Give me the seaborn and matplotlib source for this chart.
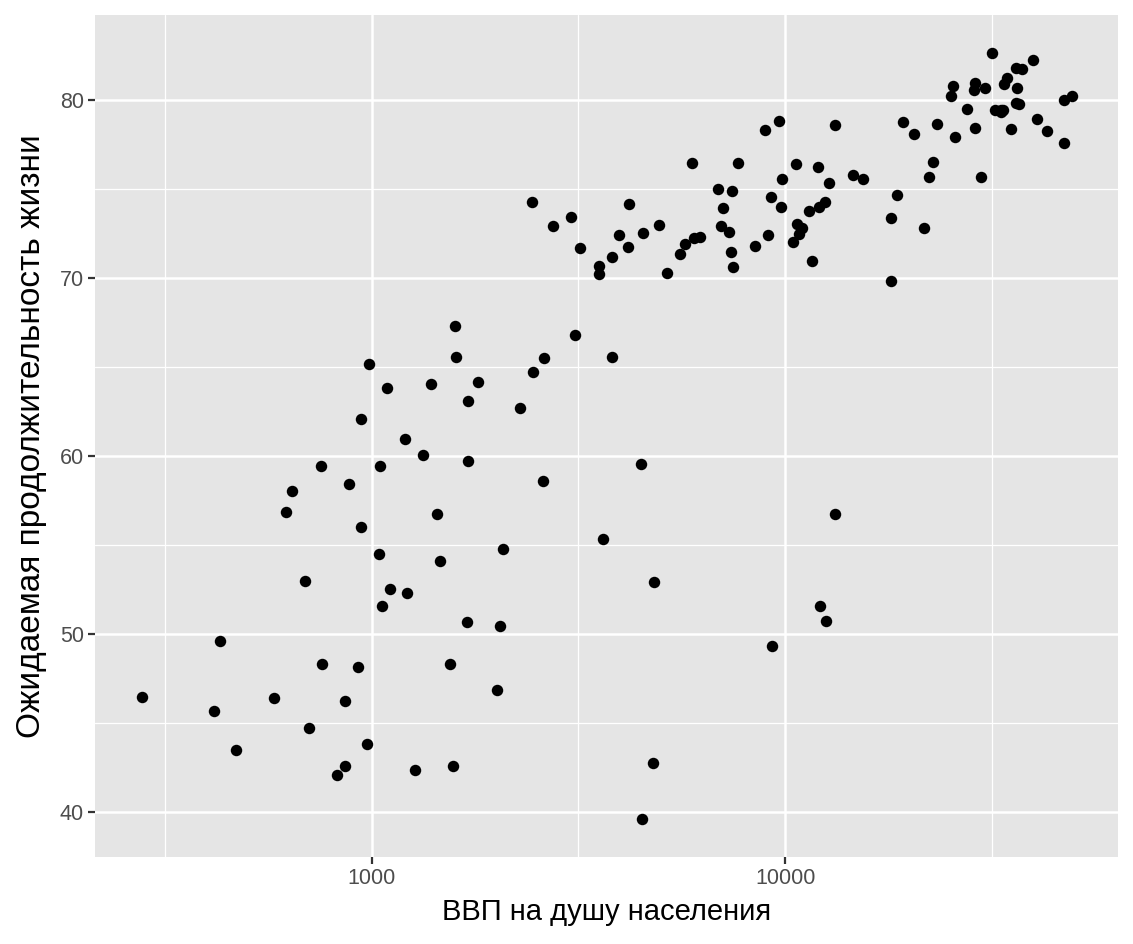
import numpy as np
import pandas as pd
import matplotlib
matplotlib.use("Agg")
import matplotlib.pyplot as plt
import seaborn as sns
from matplotlib.ticker import FixedLocator, NullFormatter

# gapminder 2007: GDP per capita and life expectancy
gdp_per_cap = [974.58, 5937.03, 6223.37, 4797.23, 12779.38, 34435.37, 36126.49, 29796.05,
               1391.25, 33692.61, 1441.28, 3822.14, 7446.30, 12569.85, 9065.80, 10680.79,
               1217.03, 430.07, 1713.78, 2042.10, 36319.24, 706.02, 1704.06, 13171.64,
               4959.12, 7006.58, 986.15, 277.55, 3632.56, 9645.06, 1544.75, 14619.22,
               8948.10, 22833.31, 35278.42, 2082.48, 6025.37, 6873.26, 5581.18, 5728.35,
               12154.09, 641.37, 690.81, 33207.08, 30470.02, 13206.48, 752.75, 32170.37,
               1327.61, 27538.41, 5186.05, 942.65, 579.23, 1201.64, 3548.33, 39724.98,
               18008.94, 36180.79, 2452.21, 3540.65, 11605.71, 4471.06, 40676.00, 25523.28,
               28569.72, 7320.88, 31656.07, 4519.46, 1463.25, 1593.07, 23348.14, 47306.99,
               10461.06, 1569.33, 414.51, 12057.50, 1044.77, 759.35, 12451.66, 1042.58,
               1803.15, 10956.99, 11977.57, 3095.77, 9253.90, 3820.18, 823.69, 944.00,
               4811.06, 1091.36, 36797.93, 25185.01, 2749.32, 619.68, 2013.98, 49357.19,
               22316.19, 2605.95, 9809.19, 4172.84, 7408.91, 3190.48, 15389.92, 20509.65,
               19328.71, 7670.12, 10808.48, 863.09, 1598.44, 21654.83, 1712.47, 9786.53,
               862.54, 47143.18, 18678.31, 25768.26, 926.14, 9269.66, 28821.06, 3970.10,
               2602.39, 4513.48, 33859.75, 37506.42, 4184.55, 28718.28, 1107.48, 7458.40,
               882.97, 18008.51, 7092.92, 8458.28, 1056.38, 33203.26, 42951.65, 10611.46,
               11415.81, 2441.58, 3025.35, 2280.77, 1271.21, 469.71]
life_exp = [43.83, 76.42, 72.30, 42.73, 75.32, 81.24, 79.83, 75.64,
            64.06, 79.44, 56.73, 65.55, 74.85, 50.73, 72.39, 73.01,
            52.30, 49.58, 59.72, 50.43, 80.65, 44.74, 50.65, 78.55,
            72.96, 72.89, 65.15, 46.46, 55.32, 78.78, 48.33, 75.75,
            78.27, 76.49, 78.33, 54.79, 72.24, 74.99, 71.34, 71.88,
            51.58, 58.04, 52.95, 79.31, 80.66, 56.74, 59.45, 79.41,
            60.02, 79.48, 70.26, 56.01, 46.39, 60.92, 70.20, 82.21,
            73.34, 81.76, 64.70, 70.65, 70.96, 59.55, 78.89, 80.75,
            80.55, 72.57, 82.60, 72.54, 54.11, 67.30, 78.62, 77.59,
            71.99, 42.59, 45.68, 73.95, 59.44, 48.30, 74.24, 54.47,
            64.16, 72.80, 76.20, 66.80, 74.54, 71.16, 42.08, 62.07,
            52.91, 63.79, 79.76, 80.20, 72.90, 56.87, 46.86, 80.20,
            75.64, 65.48, 75.54, 71.75, 71.42, 71.69, 75.56, 78.10,
            78.75, 76.44, 72.48, 46.24, 65.53, 72.78, 63.06, 74.00,
            42.57, 79.97, 74.66, 77.93, 48.16, 49.34, 80.94, 72.40,
            58.56, 39.61, 80.88, 81.70, 74.14, 78.40, 52.52, 70.62,
            58.42, 69.82, 73.92, 71.78, 51.54, 79.43, 78.24, 76.38,
            73.75, 74.25, 73.42, 62.70, 42.38, 43.49]

x_ticks = [1000, 10000]
x_tick_labels = ["1000", "10000"]
y_ticks = [40, 50, 60, 70, 80]

df = pd.DataFrame({"gdp": gdp_per_cap, "life": life_exp})

sns.set_theme(style="darkgrid")
plt.rcParams['font.family'] = ['Liberation Sans', 'DejaVu Sans']

fig, ax = plt.subplots(figsize=(11.33, 9.44), dpi=100)
fig.subplots_adjust(left=0.084, right=0.987, top=0.984, bottom=0.092)
ax.set_facecolor("#e5e5e5")

sns.scatterplot(data=df, x="gdp", y="life", ax=ax, color="black", s=68,
                edgecolor="black", linewidth=0, zorder=3)
ax.set_xscale("log")

lx = np.log10(df["gdp"])
rx = lx.max() - lx.min()
ax.set_xlim(10 ** (lx.min() - 0.05 * rx), 10 ** (lx.max() + 0.05 * rx))
ry = df["life"].max() - df["life"].min()
ax.set_ylim(df["life"].min() - 0.05 * ry, df["life"].max() + 0.05 * ry)

ax.xaxis.set_major_locator(FixedLocator(x_ticks))
ax.set_xticklabels(x_tick_labels)
ax.xaxis.set_minor_locator(FixedLocator([10 ** 2.5, 10 ** 3.5, 10 ** 4.5]))
ax.xaxis.set_minor_formatter(NullFormatter())
ax.yaxis.set_major_locator(FixedLocator(y_ticks))
ax.yaxis.set_minor_locator(FixedLocator([45, 55, 65, 75]))

ax.grid(which="major", color="white", linewidth=1.8)
ax.grid(which="minor", color="white", linewidth=0.9)
for s in ax.spines.values():
    s.set_visible(False)

ax.tick_params(axis="both", which="major", bottom=True, left=True, direction="out",
               length=5, width=1.6, color="#333333",
               labelsize=15.5, labelcolor="#4d4d4d", pad=3)
ax.tick_params(axis="both", which="minor", bottom=False, left=False, length=0)

ax.set_xlabel("ВВП на душу населения", fontsize=21, color="black", labelpad=6)
ax.set_ylabel("Ожидаемая продолжительность жизни", fontsize=24, color="black", labelpad=9)

fig.savefig("out.png", dpi=100)
